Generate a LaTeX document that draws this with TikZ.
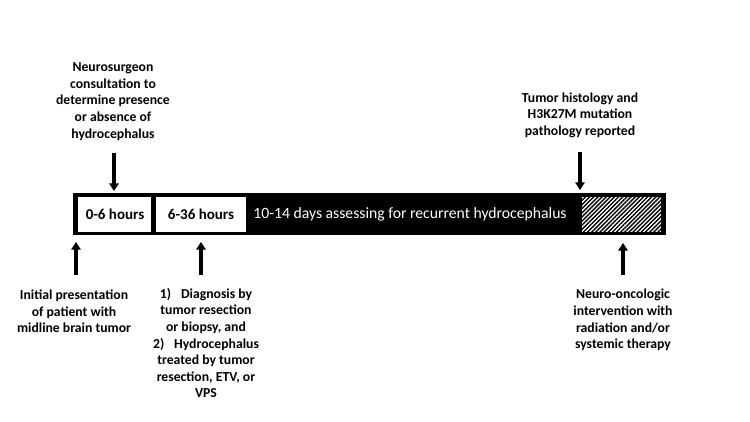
\documentclass[tikz,border=0pt]{standalone}
\usepackage{fontspec}
\setmainfont{Carlito}
\usetikzlibrary{arrows.meta, patterns.meta}

\tikzset{
  lbl/.style={font=\bfseries\fontsize{11.7}{14.2}\selectfont, align=center, inner sep=0pt},
  arr/.style={line width=2.6pt, -{Triangle[width=8pt, length=6.5pt]}},
  boxtxt/.style={font=\bfseries\fontsize{12.8}{14}\selectfont, inner sep=0pt}
}

\begin{document}
\begin{tikzpicture}[x=0.03cm, y=-0.03cm]
    \useasboundingbox (0,0) rectangle (750,422);

    % Thanh thời gian
    \fill[black] (73,193) rectangle (666,235);
    \fill[white] (78,197) rectangle (151,232);
    \fill[white] (156,197) rectangle (246,231.5);
    \fill[white] (582,197) rectangle (661,232);
    \fill[pattern={Lines[angle=45, distance=2.5pt, line width=1.2pt]}, pattern color=black] (582,197) rectangle (661,232);

    \node[boxtxt] (h06) at (115,214.5) {0-6 hours};
    \node[boxtxt] (h636) at (201,214.5) {6-36 hours};
    \node[font=\fontsize{13.4}{15}\selectfont, inner sep=0pt, text=white] (days) at (410,214.5) {10-14 days assessing for recurrent hydrocephalus};

    % Nhãn phía trên
    \node[lbl] (neuro) at (113,101.5) {Neurosurgeon\\consultation to\\determine presence\\or absence of\\hydrocephalus};
    \node[lbl] (histo) at (580,115) {Tumor histology and\\H3K27M mutation\\pathology reported};

    % Nhãn phía dưới
    \node[lbl] (init) at (74,311.5) {Initial presentation\\of patient with\\midline brain tumor};
    \node[lbl] (diag) at (206,343) {1)\enspace\ Diagnosis by\\tumor resection\\or biopsy, and\\2)\enspace\ Hydrocephalus\\treated by tumor\\resection, ETV, or\\VPS};
    \node[lbl] (onco) at (623,320) {Neuro-oncologic\\intervention with\\radiation and/or\\systemic therapy};

    % Mũi tên
    \coordinate (n1) at (114,153);  \coordinate (n2) at (114,191);
    \coordinate (t1) at (580,152);  \coordinate (t2) at (580,190);
    \coordinate (i1) at (76,275);   \coordinate (i2) at (76,242);
    \coordinate (d1) at (201,275);  \coordinate (d2) at (201,242);
    \coordinate (o1) at (623,275);  \coordinate (o2) at (623,243);
    \draw[arr] (n1) -- (n2);
    \draw[arr] (t1) -- (t2);
    \draw[arr] (i1) -- (i2);
    \draw[arr] (d1) -- (d2);
    \draw[arr] (o1) -- (o2);
\end{tikzpicture}
\end{document}
